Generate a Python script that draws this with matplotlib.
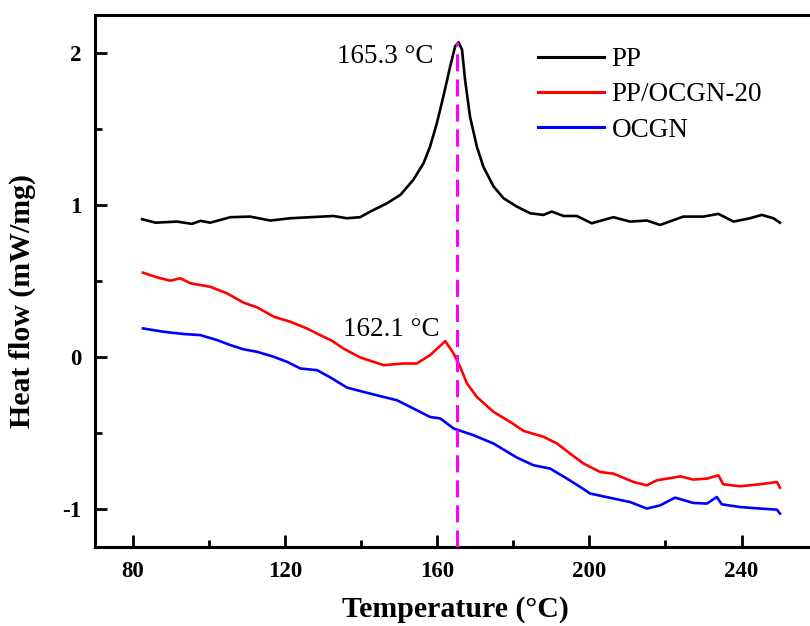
import matplotlib
matplotlib.use("Agg")
import matplotlib.pyplot as plt
from matplotlib.ticker import MultipleLocator

plt.rcParams['font.family'] = ['Liberation Serif', 'DejaVu Serif']
plt.rcParams['axes.unicode_minus'] = False

# ---- data ----
pp_t = [82.4, 85.9, 91.6, 95.5, 97.7, 100.3, 105.6, 110.8, 116.1, 121.3, 126.6, 132.7,
        136.2, 139.7, 142.4, 146.8, 150.3, 153.7, 156.4, 158.1, 159.9, 161.6, 163.4,
        164.7, 165.6, 166.5, 167.3, 168.6, 170.4, 172.1, 174.8, 177.4, 180.9, 184.4,
        187.9, 190.1, 193.2, 196.7, 200.6, 206.3, 210.7, 215.1, 218.6, 224.7, 230.0,
        233.9, 237.9, 242.2, 245.3, 248.4, 250.1]
pp_h = [0.906, 0.883, 0.890, 0.875, 0.895, 0.883, 0.919, 0.923, 0.897, 0.912, 0.919, 0.927,
        0.912, 0.919, 0.956, 1.011, 1.066, 1.165, 1.275, 1.384, 1.539, 1.714, 1.912,
        2.044, 2.070, 2.022, 1.824, 1.582, 1.384, 1.252, 1.121, 1.044, 0.989, 0.945,
        0.934, 0.956, 0.927, 0.927, 0.879, 0.919, 0.890, 0.897, 0.868, 0.923, 0.923,
        0.941, 0.890, 0.912, 0.934, 0.912, 0.883]

ppo_t = [82.6, 86.3, 89.8, 92.4, 95.1, 100.3, 104.7, 109.1, 112.6, 117.0, 121.3, 125.7,
         129.2, 132.3, 135.3, 139.7, 145.9, 151.1, 154.6, 158.1, 162.1, 164.3, 166.0,
         167.8, 170.4, 174.8, 179.2, 182.7, 188.0, 191.5, 194.9, 198.5, 202.8, 206.3,
         211.6, 215.1, 217.7, 220.4, 223.9, 227.3, 230.9, 233.9, 235.2, 239.6, 244.9,
         249.3, 250.1]
ppo_h = [0.554, 0.523, 0.501, 0.517, 0.484, 0.461, 0.418, 0.356, 0.326, 0.264, 0.231, 0.187,
         0.143, 0.106, 0.055, -0.004, -0.055, -0.044, -0.044, 0.011, 0.103, 0.022, -0.066,
         -0.175, -0.264, -0.363, -0.429, -0.488, -0.527, -0.571, -0.637, -0.703, -0.758, -0.769,
         -0.824, -0.846, -0.813, -0.802, -0.787, -0.808, -0.802, -0.780, -0.839, -0.852, -0.839,
         -0.824, -0.861]

ocgn_t = [82.6, 88.0, 93.3, 97.7, 102.1, 105.6, 109.1, 112.6, 117.0, 120.5, 124.0, 128.4,
          131.9, 136.2, 140.6, 145.0, 149.4, 153.7, 158.1, 160.8, 164.3, 169.5, 174.8,
          180.9, 185.3, 189.7, 194.1, 197.6, 200.2, 206.3, 210.7, 215.1, 218.6, 222.5,
          227.3, 230.9, 233.5, 234.8, 239.6, 244.9, 249.3, 250.1]
ocgn_h = [0.187, 0.165, 0.150, 0.143, 0.110, 0.077, 0.049, 0.033, 0.000, -0.033, -0.077, -0.088,
          -0.136, -0.202, -0.231, -0.259, -0.286, -0.340, -0.396, -0.406, -0.472, -0.516, -0.571,
          -0.663, -0.714, -0.736, -0.802, -0.857, -0.900, -0.933, -0.956, -0.999, -0.978, -0.927,
          -0.962, -0.966, -0.923, -0.971, -0.989, -0.999, -1.006, -1.032]

labels = ['PP', 'PP/OCGN-20', 'OCGN']
colors = ['black', '#ff0000', '#0000ff']
peak_pp = 165.3
peak_pp_h = 2.07
ann_pp = '165.3 \u00b0C'
ann_ppo = '162.1 \u00b0C'

fig = plt.figure(figsize=(8.10, 6.26), dpi=100)
W, H = 810, 626
ax = fig.add_axes([95 / W, 1 - 546.7 / H, (810 - 95) / W, (546.7 - 15) / H])

for t, h, lab, c in zip([pp_t, ppo_t, ocgn_t], [pp_h, ppo_h, ocgn_h], labels, colors):
    ax.plot(t, h, color=c, lw=1.9, label=lab)

ax.set_xlim(70, 258)
ax.set_ylim(-1.25, 2.25)

ax.plot([peak_pp, peak_pp], [-1.25, peak_pp_h], color='magenta', lw=2.2,
        dashes=(5.6, 2.6), zorder=3)

ax.text(133.6, 1.934, ann_pp, fontsize=19.5, ha='left', va='baseline')
ax.text(135.3, 0.136, ann_ppo, fontsize=19.5, ha='left', va='baseline')

ax.xaxis.set_major_locator(MultipleLocator(40))
ax.xaxis.set_minor_locator(MultipleLocator(20))
ax.yaxis.set_major_locator(MultipleLocator(1))
ax.yaxis.set_minor_locator(MultipleLocator(0.5))
ax.tick_params(which='both', direction='in', width=2.0, top=False, right=False)
ax.tick_params(which='major', length=8.6)
ax.tick_params(which='minor', length=5)
ax.tick_params(axis='x', which='major', pad=10, labelsize=16.5)
ax.tick_params(axis='y', which='major', pad=10, labelsize=16.5)
for lbl in ax.get_xticklabels() + ax.get_yticklabels():
    lbl.set_fontweight('bold')

for s in ['left', 'bottom', 'top']:
    ax.spines[s].set_linewidth(2.2)
ax.spines['right'].set_visible(False)

ax.set_xlabel('Temperature (\u00b0C)', fontsize=21.5, fontweight='bold')
ax.set_ylabel('Heat flow (mW/mg)', fontsize=21.5, fontweight='bold')
ax.xaxis.set_label_coords((455.7 - 95) / 715, (546.7 - 596) / 531.7)
ax.yaxis.set_label_coords((36 - 95) / 715, (546.7 - 301.5) / 531.7)

leg = ax.legend(loc='upper left', bbox_to_anchor=((538 - 95) / 715, (546.7 - 47) / 531.7),
                frameon=False, fontsize=19.5, handlelength=2.45, handletextpad=0.26,
                labelspacing=0.38, borderpad=0, borderaxespad=0)
for l in leg.get_lines():
    l.set_linewidth(2.2)

fig.savefig('out.png', dpi=100, facecolor='white')
